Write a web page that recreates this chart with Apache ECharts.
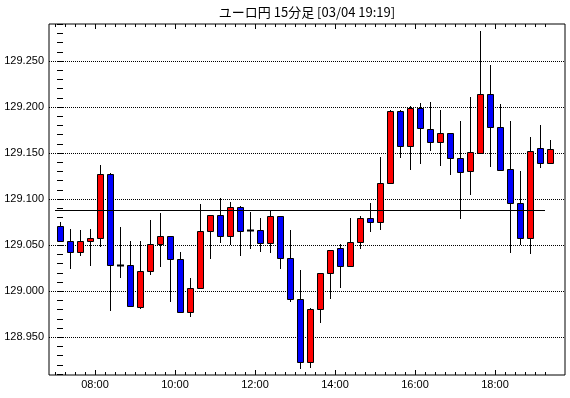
<!DOCTYPE html>
<html><head><meta charset="utf-8">
<script src="https://cdn.jsdelivr.net/npm/echarts@6/dist/echarts.min.js"></script>
<style>html,body{margin:0;padding:0;background:#fff}#c{width:570px;height:398px}</style>
</head><body><div id="c"></div>
<script>
const titleText = 'ユーロ円 15分足 [03/04 19:19]';
const times = ['07:00','07:15','07:30','07:45','08:00','08:15','08:30','08:45','09:00','09:15','09:30','09:45',
  '10:00','10:15','10:30','10:45','11:00','11:15','11:30','11:45','12:00','12:15','12:30','12:45',
  '13:00','13:15','13:30','13:45','14:00','14:15','14:30','14:45','15:00','15:15','15:30','15:45',
  '16:00','16:15','16:30','16:45','17:00','17:15','17:30','17:45','18:00','18:15','18:30','18:45',
  '19:00','19:15'];
const opens = [129.071,129.054,129.043,129.055,129.058,129.127,129.029,129.029,128.983,129.022,129.051,129.060,
  129.035,128.977,129.004,129.065,129.083,129.060,129.091,129.066,129.066,129.052,129.082,129.036,
  128.991,128.923,128.981,129.020,129.047,129.027,129.053,129.079,129.075,129.118,129.196,129.158,
  129.199,129.176,129.162,129.172,129.145,129.131,129.150,129.214,129.178,129.133,129.096,129.058,
  129.155,129.139];
const highs = [129.075,129.068,129.067,129.068,129.137,129.128,129.070,129.055,129.055,129.077,129.085,129.060,
  129.043,129.014,129.095,129.083,129.101,129.097,129.093,129.086,129.079,129.087,129.082,129.066,
  129.023,128.982,129.020,129.045,129.051,129.080,129.082,129.096,129.146,129.197,129.197,129.201,
  129.204,129.205,129.197,129.172,129.185,129.211,129.283,129.246,129.203,129.185,129.131,129.168,
  129.180,129.164];
const lows = [129.053,129.024,129.038,129.027,129.048,128.979,129.014,128.983,128.981,129.018,129.026,128.988,
  128.976,128.972,129.004,129.035,129.052,129.050,129.038,129.046,129.043,129.041,129.024,128.988,
  128.916,128.917,128.965,128.992,129.003,129.027,129.046,129.064,129.066,129.117,129.145,129.132,
  129.138,129.152,129.136,129.126,129.078,129.105,129.150,129.135,129.131,129.042,129.050,129.040,
  129.134,129.139];
const closes = [129.054,129.043,129.055,129.058,129.127,129.028,129.029,128.984,129.022,129.051,129.060,129.035,
  128.977,129.004,129.065,129.083,129.060,129.091,129.065,129.066,129.052,129.082,129.036,128.991,
  128.923,128.981,129.020,129.045,129.027,129.053,129.079,129.075,129.118,129.196,129.158,129.199,
  129.177,129.162,129.172,129.145,129.130,129.151,129.214,129.178,129.132,129.096,129.058,129.152,
  129.139,129.154];
const xTickLabels = ['08:00','10:00','12:00','14:00','16:00','18:00'];
const yTickLabels = [128.95,129.00,129.05,129.10,129.15,129.20,129.25];
const refLevel = 129.088;

const Y_MIN = 128.909, Y_MAX = 129.2902;
const X_MIN = -1.1, X_MAX = 50.5;
const xLabelPos = xTickLabels.map(t => times.indexOf(t) - 0.5);
const xMinorPos = times.map((t, i) => i - 0.5);
const yMinorPos = [];
for (let k = 12891; k <= 12929; k++) yMinorPos.push(k / 100);

const chart = echarts.init(document.getElementById('c'), null, {renderer: 'canvas'});
const FONT = 'Liberation Sans';

function xAx(pos, customTicks, len, withLabels) {
  return {
    type: 'value', position: pos, min: X_MIN, max: X_MAX,
    axisLine: {show: false}, splitLine: {show: false},
    axisTick: {show: true, inside: true, length: len, customValues: customTicks,
      lineStyle: {color: '#000', width: 1}},
    axisLabel: withLabels ? {show: true, customValues: xLabelPos, margin: 4,
      color: '#000', fontFamily: FONT, fontSize: 11,
      formatter: v => times[Math.round(v + 0.5)]} : {show: false}
  };
}
function yAx(pos, opts) {
  return Object.assign({
    type: 'value', position: pos, min: Y_MIN, max: Y_MAX, scale: true,
    axisLine: {show: false}, splitLine: {show: false}, axisLabel: {show: false},
    axisTick: {show: false}
  }, opts);
}

chart.setOption({
  animation: false,
  backgroundColor: '#fff',
  grid: {left: 49, right: 5, top: 24, bottom: 23, show: true, borderColor: '#000', borderWidth: 1, backgroundColor: 'transparent'},
  graphic: [{type: 'text', x: 307, y: 12, style: {text: titleText, fill: '#000',
    font: '13px "Noto Sans CJK JP"', textAlign: 'center', textVerticalAlign: 'middle'}}],
  xAxis: [
    xAx('bottom', xLabelPos, 5, true),
    xAx('bottom', xMinorPos, 3, false),
    xAx('top', xLabelPos, 5, false),
    xAx('top', xMinorPos, 3, false)
  ],
  yAxis: [
    yAx('left', {
      axisLabel: {show: true, customValues: yTickLabels, margin: 5, color: '#000',
        fontFamily: FONT, fontSize: 11, formatter: v => v.toFixed(3)},
      axisTick: {show: true, inside: false, length: 5, customValues: yTickLabels,
        lineStyle: {color: '#000', width: 1, type: [1, 1]}},
      splitLine: {show: true, lineStyle: {color: '#000', width: 1, type: [1, 1]}}
    }),
    yAx('left', {axisTick: {show: true, inside: true, length: 3, customValues: yMinorPos,
      lineStyle: {color: '#000', width: 1}}}),
    yAx('right', {axisTick: {show: true, inside: true, length: 3, customValues: yMinorPos,
      lineStyle: {color: '#000', width: 1}}})
  ],
  series: [{
    type: 'custom',
    xAxisIndex: 0, yAxisIndex: 0,
    clip: true,
    encode: {x: 0, y: [1, 2, 3, 4]},
    data: times.map((t, i) => [i, opens[i], closes[i], lows[i], highs[i]]),
    renderItem: function (params, api) {
      const i = api.value(0), o = api.value(1), c = api.value(2), l = api.value(3), h = api.value(4);
      const pO = api.coord([i, o]), pC = api.coord([i, c]), pL = api.coord([i, l]), pH = api.coord([i, h]);
      const x = Math.round(pO[0]) + 0.5;
      const children = [{type: 'line', shape: {x1: x, y1: Math.round(pH[1]), x2: x, y2: Math.round(pL[1])},
        style: {stroke: '#000', lineWidth: 1}}];
      const top = Math.round(Math.min(pO[1], pC[1])) + 0.5;
      const bot = Math.round(Math.max(pO[1], pC[1])) + 0.5;
      if (Math.abs(o - c) < 1e-9) {
        children.push({type: 'line', shape: {x1: x - 3.5, y1: top, x2: x + 3.5, y2: top},
          style: {stroke: '#000', lineWidth: 2}});
      } else {
        children.push({type: 'rect', shape: {x: x - 3, y: top, width: 6, height: Math.max(bot - top, 1)},
          style: {fill: c > o ? '#ff0000' : '#0000ff', stroke: '#000', lineWidth: 1}});
      }
      return {type: 'group', children: children};
    },
    markLine: {
      silent: true, symbol: 'none', label: {show: false},
      lineStyle: {color: '#000', width: 1, type: 'solid'},
      data: [[{coord: [-0.5, refLevel]}, {coord: [times.length - 1.5, refLevel]}]]
    }
  }]
});
</script>
</body></html>
